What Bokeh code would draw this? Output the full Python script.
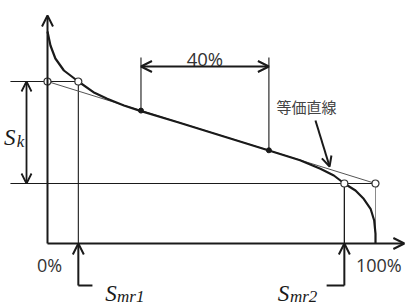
from bokeh.plotting import figure
from bokeh.models import ColumnDataSource, Range1d, Arrow, OpenHead
from bokeh.core.properties import value
from bokeh.embed import file_html
from bokeh.resources import INLINE

# Abbott-Firestone (material ratio) curve: material ratio [%] vs height [a.u.]
curve_mr = [0, 0.9, 2.4, 5.0, 9.4, 14.0, 18.2, 23.3, 28.3, 40, 55, 68, 77, 83.2, 87.3, 90.5, 93.9, 96.4, 98.5, 99.6, 100, 100]
curve_h = [212, 198, 185, 173, 162, 151.3, 144.7, 138, 132.6, 121, 105.8, 92.5, 83.3, 74.7, 68, 60, 53, 44.7, 34.7, 23, 9.7, 0]

# equivalent straight line (secant through the 40 % section)
eq_mr = [0, 100]
eq_h = [162, 60]
sec_mr = [28.5, 67.5]
sec_h = [132.9, 93.2]

# Sk / Smr1 / Smr2
sk_top = 162
sk_bot = 60
smr1 = 9.4
smr2 = 90.5

axis_labels = ["0%", "100%"]
sec_label = ["40%"]
eq_label = ["等価直線"]

xr = Range1d(-47 / 3.28, (408 - 47) / 3.28)
yr = Range1d(-63, 243)
p = figure(width=408, height=306, x_range=xr, y_range=yr,
           output_backend="svg", toolbar_location=None,
           min_border=0, min_border_left=0, min_border_right=0,
           min_border_top=0, min_border_bottom=0)
p.axis.visible = False
p.grid.visible = False
p.outline_line_color = None
p.background_fill_color = "white"

ink = "#1a1a1a"

def arrow(x0, y0, x1, y1, both=False, lw=2.0, size=11):
    a = Arrow(end=OpenHead(size=size, line_width=lw, line_color=ink),
              start=OpenHead(size=size, line_width=lw, line_color=ink) if both else None,
              x_start=x0, y_start=y0, x_end=x1, y_end=y1,
              line_width=lw, line_color=ink)
    p.add_layout(a)

# axes
arrow(0, 0, 0, 228)
arrow(0, 0, 108.8, 0)

# thin reference lines
p.line([-11.3, smr1], [sk_top, sk_top], line_color=ink, line_width=1.1)
p.line([-11.3, 100], [sk_bot, sk_bot], line_color=ink, line_width=1.1)
p.line([smr1, smr1], [sk_top, 0], line_color=ink, line_width=1.1)
p.line([smr2, smr2], [sk_bot, 0], line_color=ink, line_width=1.3)
p.line([100, 100], [sk_bot, 0], line_color="#8a8a8a", line_width=1)
p.line(eq_mr, eq_h, line_color="#555555", line_width=1)

# 40% section markers
for m, h in zip(sec_mr, sec_h):
    p.line([m, m], [186, h], line_color=ink, line_width=1.1)
arrow(sec_mr[0], 177, sec_mr[1], 177, both=True, lw=2, size=11)

# curve
p.line(curve_mr, curve_h, line_color=ink, line_width=2.2)

# points
p.scatter(sec_mr, sec_h, size=5, color=ink)
p.scatter([0, smr1, smr2, 100], [sk_top, sk_top, sk_bot, sk_bot], size=7,
          fill_color="white", line_color="#333333", line_width=1.2)

# Sk arrow
arrow(-6.4, sk_top, -6.4, sk_bot, both=True, lw=1.8, size=10)

# Smr arrows
arrow(smr1, -42, smr1, 0, lw=2, size=11)
p.line([smr1, 13.7], [-42, -42], line_color=ink, line_width=2)
arrow(smr2, -42, smr2, 0, lw=2, size=11)
p.line([smr2, 85.1], [-42, -42], line_color=ink, line_width=2)

# equivalent-line pointer
arrow(81.7, 123, 86.0, 77, lw=2, size=10)

# texts
p.text(x=[0.6, 101.0], y=[-21, -21], text=axis_labels, text_font=value("Open Sans"),
       text_font_size=value("18px"), text_color="#333333", text_align="center",
       text_baseline="middle")
p.text(x=[48], y=[185], text=sec_label, text_font=value("Open Sans"),
       text_font_size=value("18.5px"), text_color="#333333", text_align="center",
       text_baseline="middle")
p.text(x=[79], y=[137], text=eq_label, text_font=value("Noto Sans CJK JP"),
       text_font_size=value("15px"), text_color="#444444", text_align="center",
       text_baseline="middle")

sym_font = value("Liberation Serif")
p.text(x=[-13.3, 17.6, 70.2], y=[106, -50, -50], text=["S", "S", "S"],
       text_font=sym_font, text_font_style="italic", text_font_size=value("23px"),
       text_color=ink, text_align="left", text_baseline="alphabetic")
p.text(x=[-9.4, 21.2, 73.9], y=[102, -53, -53], text=["k", "mr1", "mr2"],
       text_font=sym_font, text_font_style="italic", text_font_size=value("17px"),
       text_color=ink, text_align="left", text_baseline="alphabetic")

open("out.html", "w").write(file_html(p, INLINE))
